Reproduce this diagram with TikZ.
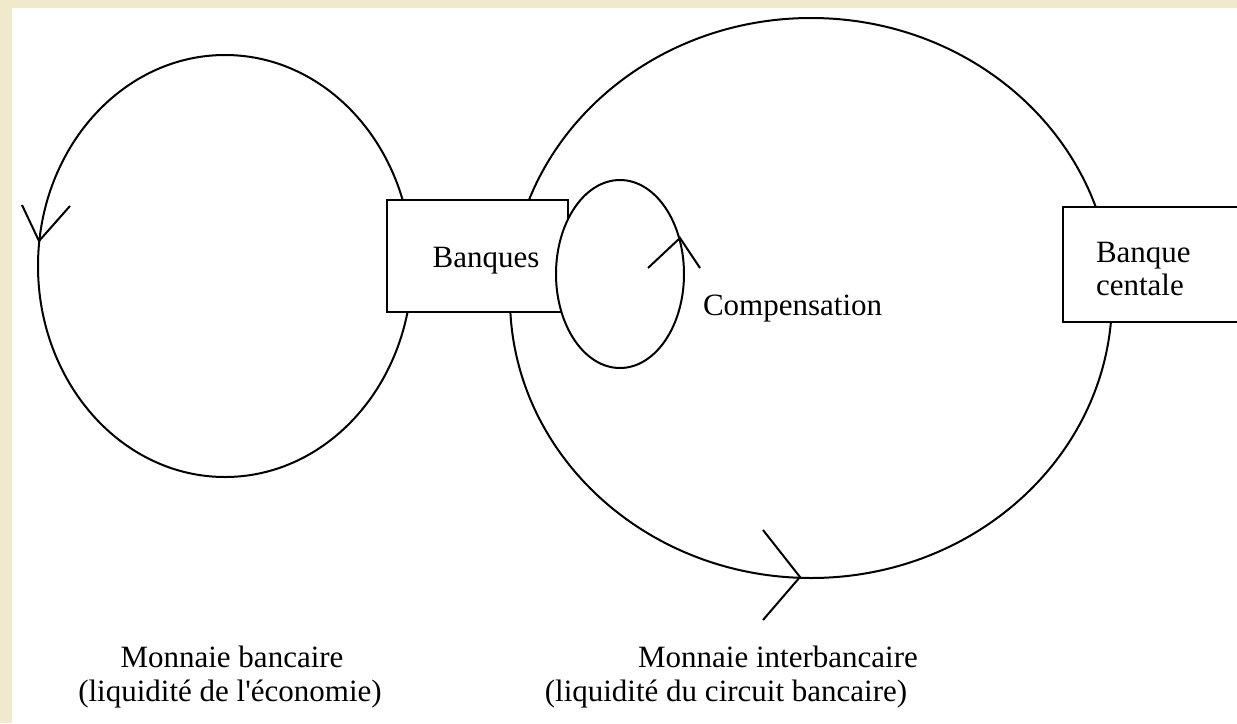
\documentclass[tikz,border=0pt]{standalone}
\usepackage{fontspec}
\setmainfont{Liberation Serif}
\usetikzlibrary{shapes.geometric}
\definecolor{parch}{HTML}{F0E9CC}
\begin{document}
\begin{tikzpicture}[x=0.5pt,y=-0.5pt, line width=1pt, line join=miter,
  lbl/.style={font=\fontsize{15.5}{16.5}\selectfont, inner sep=0pt},
  oval/.style={ellipse, draw, inner sep=0pt, outer sep=0pt},
  box/.style={draw, fill=white, rectangle, inner sep=0pt, outer sep=0pt},
  barb/.style={line width=1pt}]
\fill[parch] (0,0) rectangle (1237,723);
\useasboundingbox (0,0) rectangle (1237,723);
\fill[white] (12,8) rectangle (1237,723);
\clip (0,0) rectangle (1237,723);
% circuits
\node[oval, minimum width=187pt, minimum height=211pt] (lc) at (225,266) {};
\node[oval, minimum width=301pt, minimum height=280pt] (bc) at (811,298) {};
% boxes
\node[box, minimum width=90.5pt, minimum height=56pt] (banquesbox) at (477.5,256) {};
\node[oval, fill=white, minimum width=64pt, minimum height=94pt] (comp) at (620,274) {};
\node[box, minimum width=103.5pt, minimum height=57.5pt] (centralbox) at (1166.5,264.5) {};
% texts
\node[lbl, anchor=base] (banques) at (486,267) {Banques};
\node[lbl, anchor=base west, align=left] (centrale) at (1095,295) {Banque\\centale};
\node[lbl, anchor=base west] (compensation) at (702,315) {Compensation};
\node[lbl, anchor=base] (mb1) at (232,667) {Monnaie bancaire};
\node[lbl, anchor=base] (mb2) at (230,701) {(liquidité de l\textquotesingle économie)};
\node[lbl, anchor=base] (mi1) at (778,667) {Monnaie interbancaire};
\node[lbl, anchor=base] (mi2) at (726,701) {(liquidité du circuit bancaire)};
% direction marks
\coordinate (la) at (22,205); \coordinate (lt) at (39,241); \coordinate (lb) at (70,206);
\draw[barb] (la) -- (lt) -- (lb);
\coordinate (sa) at (648,268); \coordinate (st) at (680,238); \coordinate (sb) at (700,268);
\draw[barb] (sa) -- (st) -- (sb);
\coordinate (ba) at (763,530); \coordinate (bt) at (800,577); \coordinate (bb) at (763,620);
\draw[barb] (ba) -- (bt) -- (bb);
\end{tikzpicture}
\end{document}
